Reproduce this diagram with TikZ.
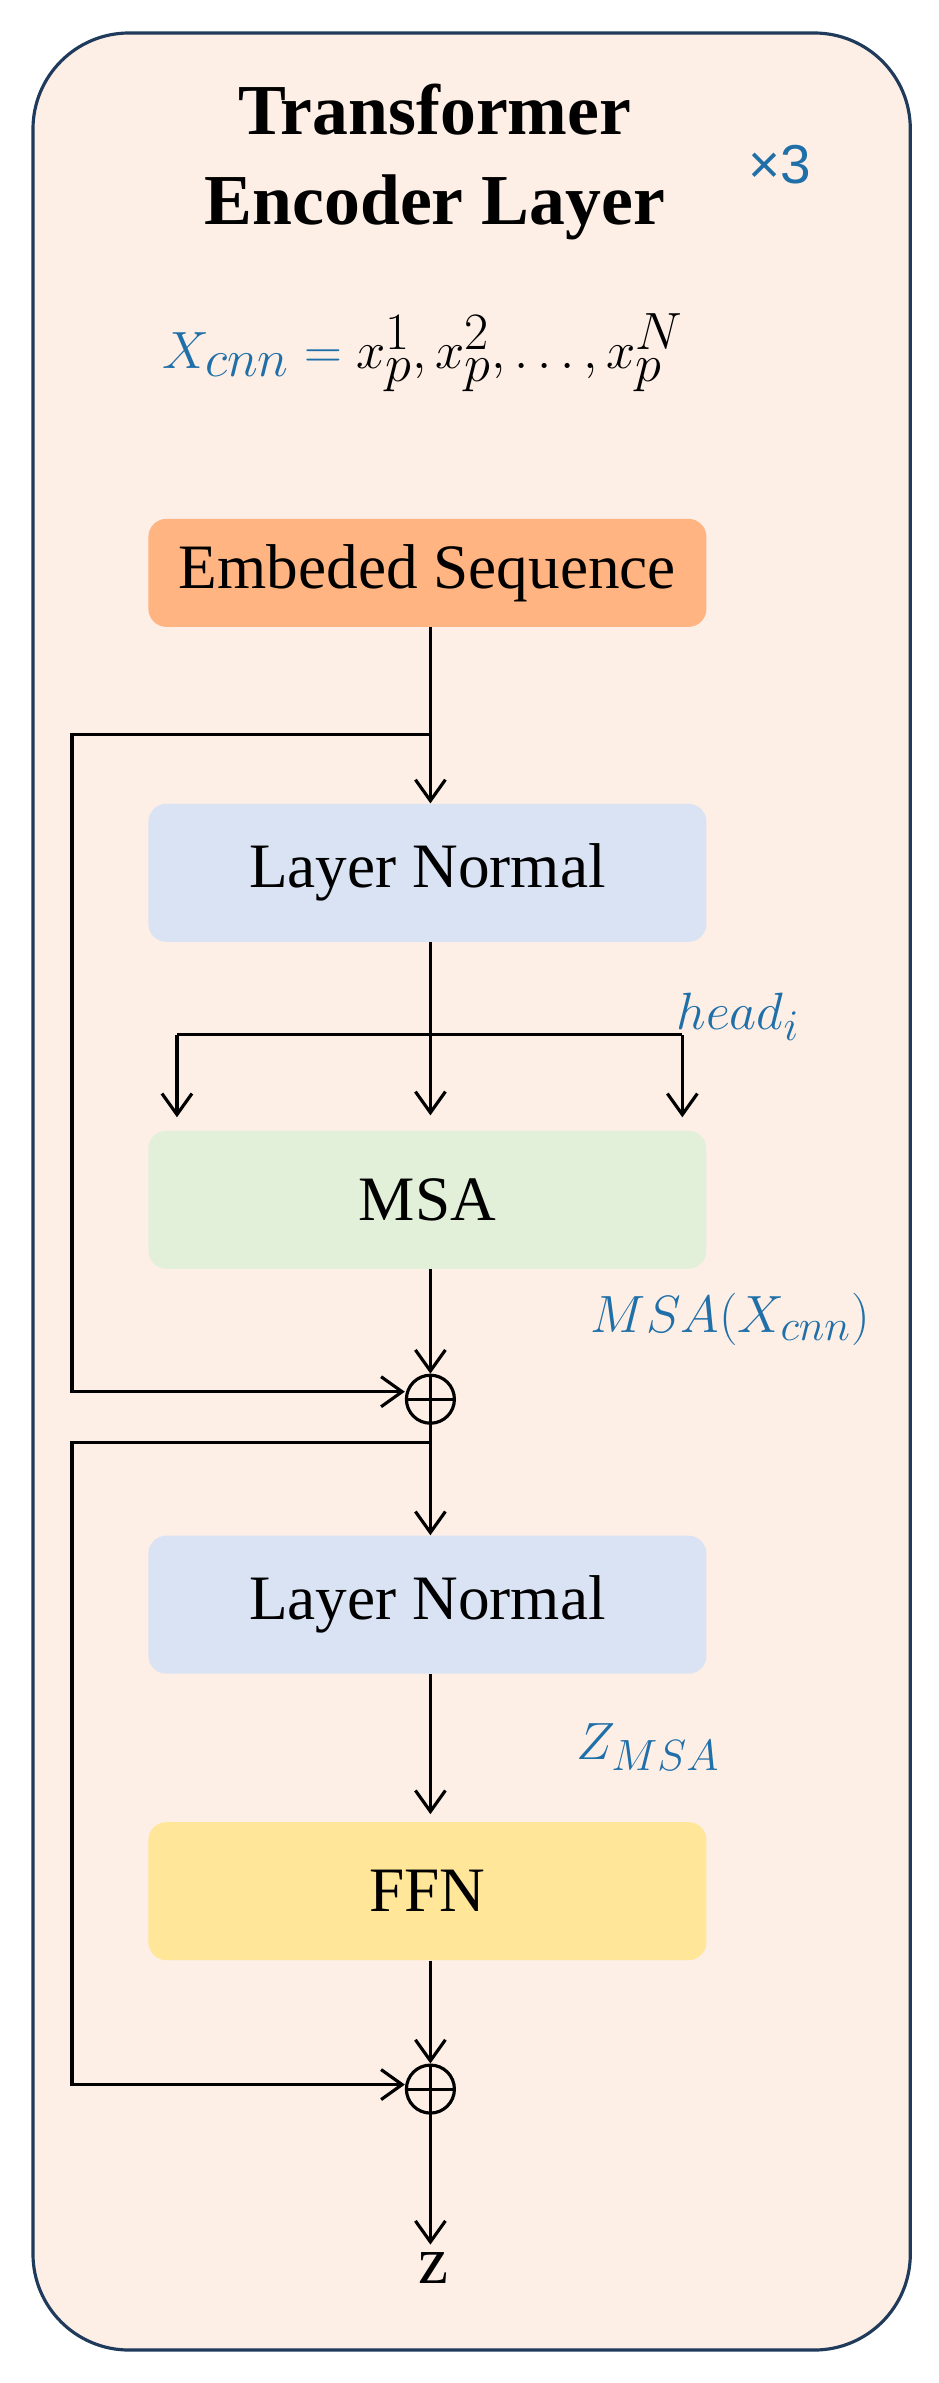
\documentclass[tikz,border=0pt]{standalone}
\usepackage{fontspec}
\setmainfont{Liberation Serif}
\newfontfamily\labelsans{Liberation Sans}
\usetikzlibrary{positioning, arrows.meta, calc}
\definecolor{pagebg}{HTML}{FDEEE6}
\definecolor{edgeblue}{HTML}{1F3A5A}
\definecolor{tagblue}{HTML}{1F6FA8}
\definecolor{embedfill}{HTML}{FFB482}
\definecolor{normfill}{HTML}{DAE3F3}
\definecolor{msafill}{HTML}{E2F0D9}
\definecolor{ffnfill}{HTML}{FFE699}
\tikzset{
  block/.style = {rounded corners=0.3cm, minimum width=9.3cm, minimum height=2.3cm,
                  font=\fontsize{30}{34}\selectfont},
  flow/.style  = {line width=1.5pt, -{Straight Barb[length=3.5mm, width=5mm]}},
  wire/.style  = {line width=1.5pt},
  tag/.style   = {text=tagblue, font=\fontsize{30}{34}\selectfont},
  adder/.style = {circle, draw, line width=1.5pt, minimum size=0.8cm, inner sep=0pt}
}
\begin{document}
\begin{tikzpicture}[x=0.025cm, y=-0.025cm]

    \useasboundingbox (0,0) rectangle (626,1589);
    \draw[line width=1.5pt, edgeblue, fill=pagebg, rounded corners=1.6cm] (22,22) rectangle (607,1567);

    \node[align=center, font=\fontsize{34}{43}\selectfont\bfseries] (title) at (290,108) {Transformer\\Encoder Layer};
    \node[tag, font=\labelsans\fontsize{26}{30}\selectfont] (rep) at (520,110) {×3};
    \node[font=\fontsize{34}{38}\selectfont] (xin) at (282,235)
        {$\color{tagblue}X_{cnn} = \color{black} x_p^1, x_p^2,\ldots, x_p^N$};

    \node[block, fill=embedfill, minimum height=1.8cm] (embed) at (285,382) {Embeded Sequence};
    \node[block, fill=normfill] (norm1) at (285,582) {Layer Normal};
    \node[block, fill=msafill] (msa) at (285,800) {MSA};
    \node[block, fill=normfill] (norm2) at (285,1070) {Layer Normal};
    \node[block, fill=ffnfill] (ffn) at (285,1261) {FFN};

    \node[adder] (add1) at (287,933) {};
    \draw[line width=1.5pt] (add1.north) -- (add1.south) (add1.west) -- (add1.east);
    \node[adder] (add2) at (287,1393) {};
    \draw[line width=1.5pt] (add2.north) -- (add2.south) (add2.west) -- (add2.east);

    \node[font=\fontsize{32}{36}\selectfont] (out) at (289,1512) {z};

    \coordinate (split1) at (287,490);
    \coordinate (split2) at (287,962);
    \coordinate (fan) at (287,690);

    % main path
    \draw[wire] (embed.south -| split1) -- (split1);
    \draw[flow] (split1) -- (norm1.north -| split1);
    \draw[wire] (norm1.south -| fan) -- (fan);
    \draw[flow] (fan) -- ($(msa.north -| fan)+(0,-10)$);
    \draw[flow] (118,690) -- (118,745);
    \draw[flow] (455,690) -- (455,745);
    \draw[wire] (118,690) -- (455,690);
    \draw[flow] (msa.south -| add1) -- (add1.north);
    \draw[wire] (add1.south) -- (split2);
    \draw[flow] (split2) -- (norm2.north -| split2);
    \draw[flow] (norm2.south -| add2) -- ($(ffn.north -| add2)+(0,-5)$);
    \draw[flow] (ffn.south -| add2) -- (add2.north);
    \draw[flow] (add2.south) -- (add2.south |- out.north);

    % residual paths
    \draw[flow] (split1) -- (48,490) -- (48,928) -- (add1.west |- 0,928);
    \draw[flow] (split2) -- (48,962) -- (48,1390) -- (add2.west |- 0,1390);

    \node[tag] (headlbl) at (492,678) {$head_i$};
    \node[tag] (msalbl) at (487,880) {$MSA(X_{cnn})$};
    \node[tag] (zlbl) at (432,1165) {$Z_{MSA}$};

\end{tikzpicture}
\end{document}
